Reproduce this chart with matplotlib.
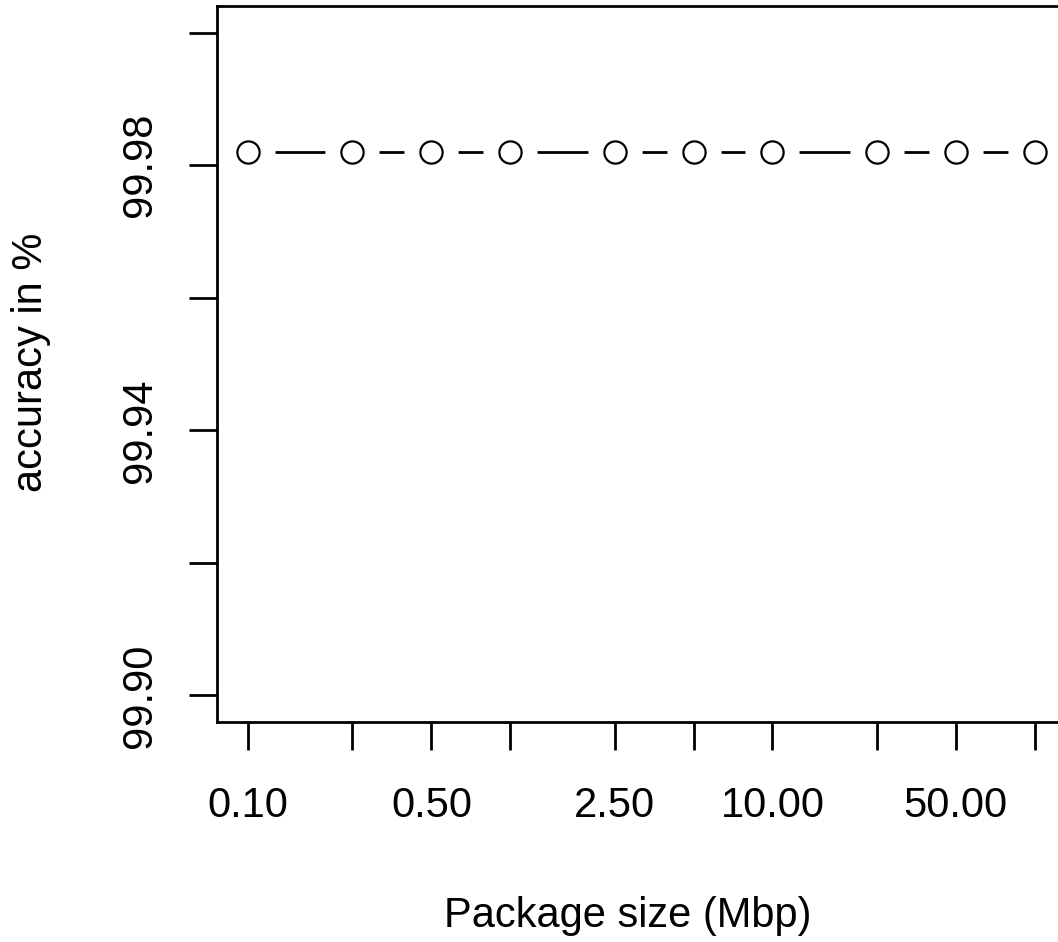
import matplotlib
matplotlib.use('Agg')
import matplotlib.pyplot as plt

# package sizes (Mbp) and accuracy
package_size = [0.1, 0.25, 0.5, 1, 2.5, 5, 10, 25, 50, 100]
accuracy = [99.982, 99.982, 99.982, 99.982, 99.982, 99.982, 99.982, 99.982, 99.982, 99.982]
x_labels = ['0.10', '', '0.50', '', '2.50', '', '10.00', '', '50.00', '']
y_ticks = [99.90, 99.92, 99.94, 99.96, 99.98, 100.00]
y_labels = ['99.90', '', '99.94', '', '99.98', '']

plt.rcParams['font.family'] = ['Liberation Sans', 'DejaVu Sans']

fig = plt.figure(figsize=(10.58, 9.42), dpi=100)
ax = fig.add_axes([216.7 / 1058, 1 - 722 / 942, (1066 - 216.7) / 1058, (722 - 6) / 942])

# R style type="b": line with gaps around the points
ax.plot(package_size, accuracy, color='black', lw=2.0, zorder=2, clip_on=False)
ax.plot(package_size, accuracy, 'o', ms=39, mfc='white', mec='white', mew=0, zorder=3, clip_on=False)
ax.plot(package_size, accuracy, 'o', ms=16, mfc='white', mec='black', mew=1.6, zorder=4, clip_on=False)

ax.set_xscale('log')
ax.set_xlim(10 ** -1.12, 10 ** 2.12)
ax.set_ylim(99.896, 100.004)

ax.set_xticks(package_size)
ax.set_xticklabels(x_labels)
ax.minorticks_off()
ax.set_yticks(y_ticks)
ax.set_yticklabels(y_labels, rotation=90, va='center')

ax.tick_params(axis='both', direction='out', length=20, width=2.0, labelsize=30)
ax.tick_params(axis='x', pad=26)
ax.tick_params(axis='y', pad=21)

for s in ax.spines.values():
    s.set_linewidth(2.0)

fig.text(31 / 1058, 1 - 362 / 942, 'accuracy in %', rotation=90, ha='center', va='center', fontsize=30)
fig.text(628 / 1058, 1 - 916 / 942, 'Package size (Mbp)', ha='center', va='center', fontsize=30)

plt.savefig('out.png', dpi=100)
